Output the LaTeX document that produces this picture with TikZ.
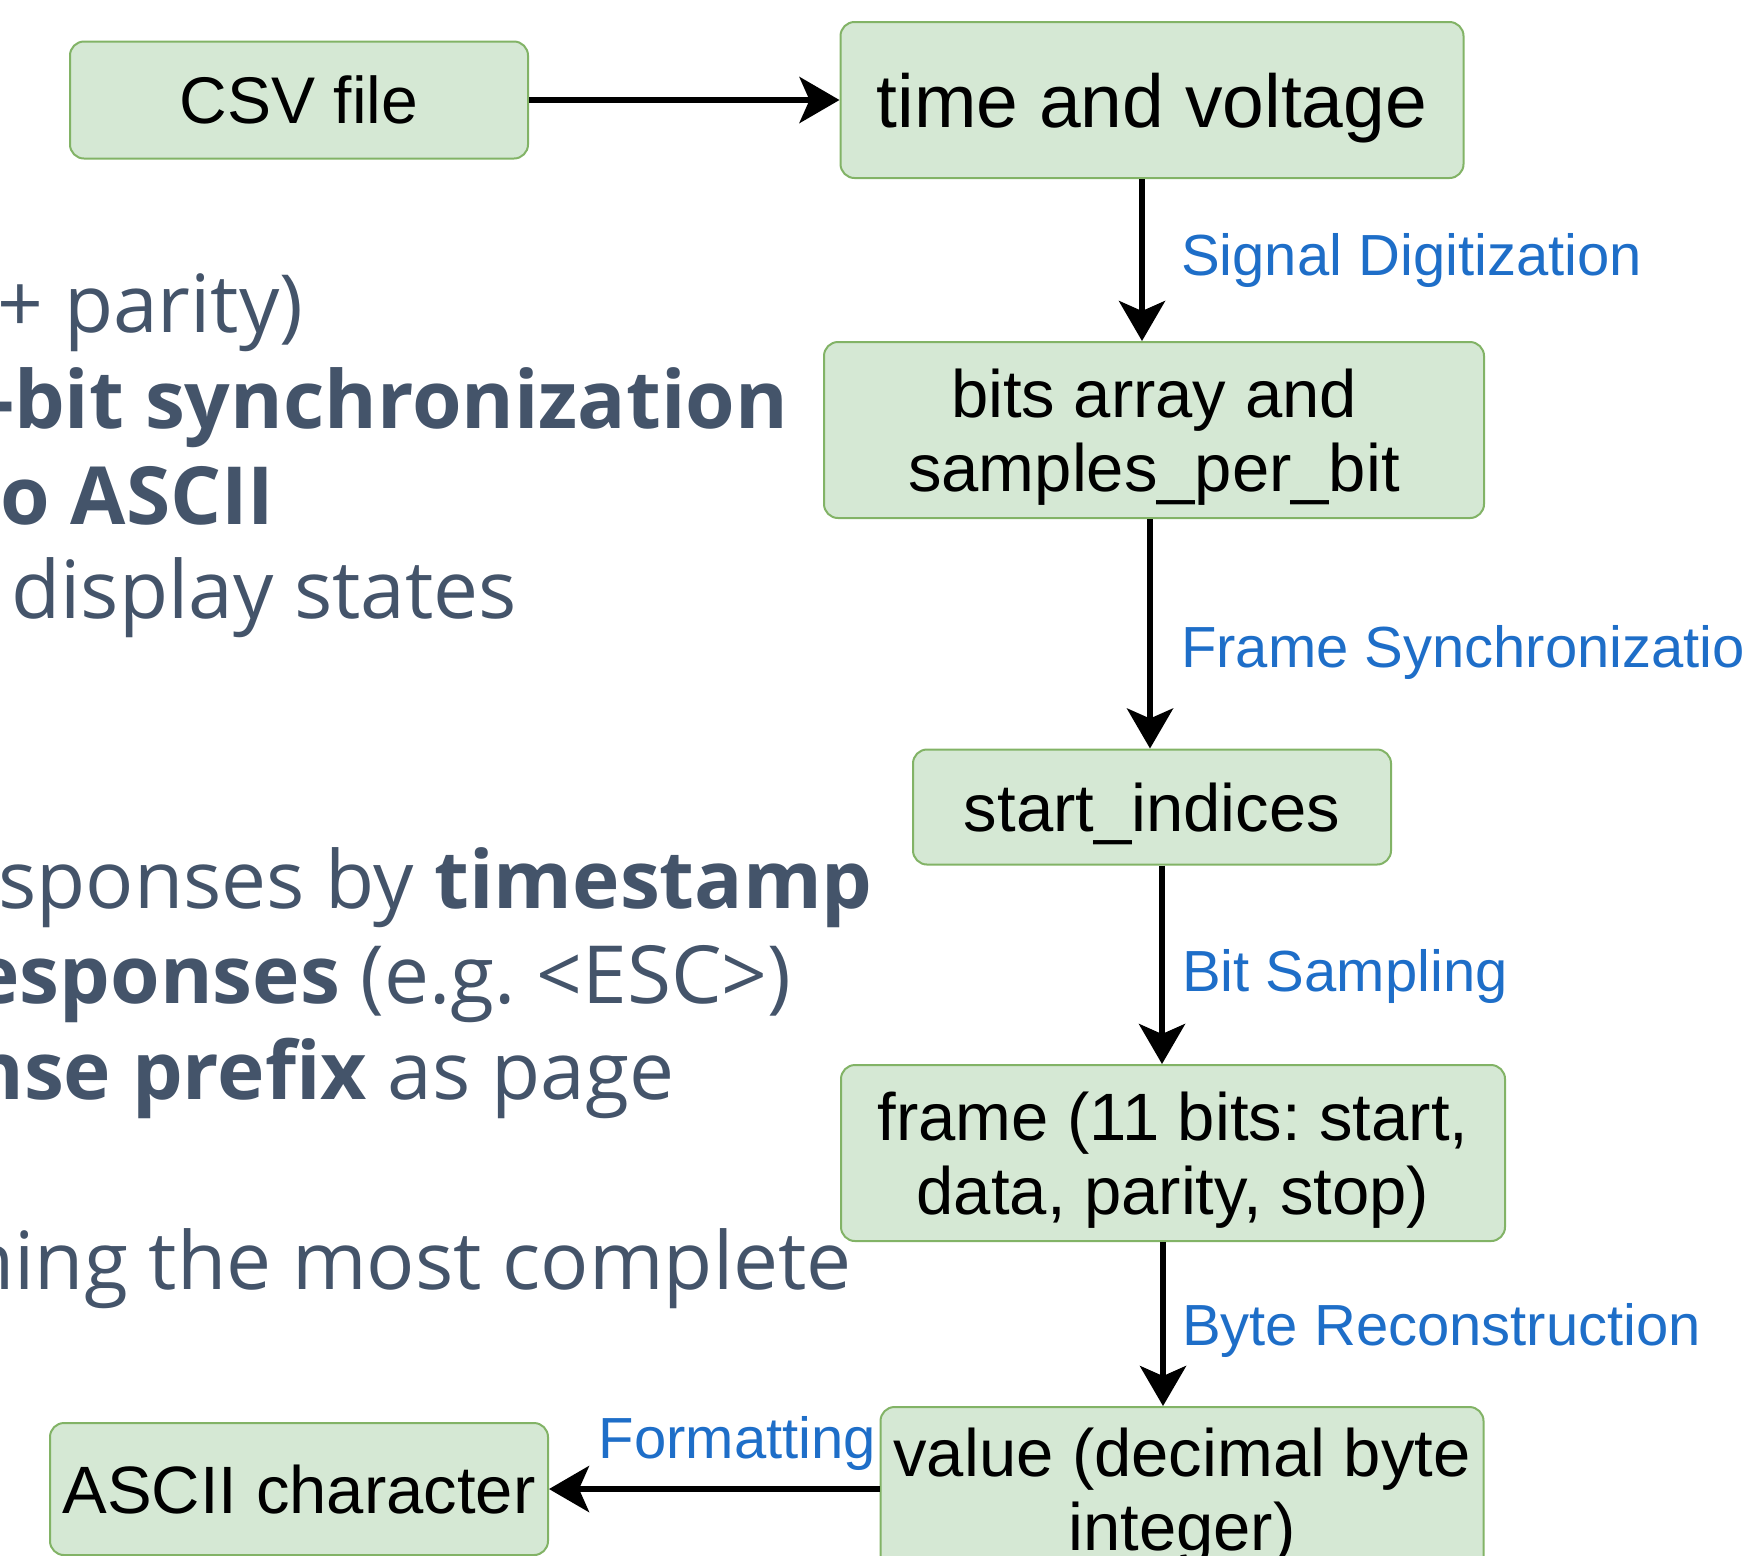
\documentclass[tikz,border=0pt]{standalone}
\usepackage{fontspec}
\setmainfont{Liberation Sans}
\newfontfamily\slidefont{Open Sans}
\definecolor{boxfill}{RGB}{213,232,212}
\definecolor{boxline}{RGB}{130,179,102}
\definecolor{flowblue}{RGB}{30,110,200}
\definecolor{slidegray}{RGB}{68,84,106}
\usetikzlibrary{arrows.meta}
\usetikzlibrary{positioning}
\tikzset{
  stepbox/.style={draw=boxline, fill=boxfill, line width=1pt, rounded corners=7pt,
    align=center, inner sep=0pt, text depth=0pt, font=\fontsize{33.5pt}{37pt}\selectfont},
  flow/.style={line width=3pt, -{Stealth[length=20pt,width=23pt,inset=5pt]}},
  steplabel/.style={text=flowblue, inner sep=0pt, font=\fontsize{29pt}{34pt}\selectfont},
  slidetext/.style={anchor=base west, inner sep=0pt, text=slidegray,
    font=\slidefont\fontsize{40.1pt}{48pt}\selectfont}
}

\begin{document}
\frenchspacing
\begin{tikzpicture}[x=0.5pt, y=-0.5pt]
  \useasboundingbox (0,0) rectangle (1743,1555);
  \clip (0,0) rectangle (1743,1555);

  % slide text behind the diagram
  \node [slidetext] (ln1) at (-3,332) {+ parity)};
  \node [slidetext] (ln2) at (-12,428) {\bfseries -bit synchronization};
  \node [slidetext] (ln3) at (0,524) {\bfseries o ASCII};
  \node [slidetext] (ln4) at (11,618) {display states};
  \node [slidetext] (ln5) at (-2,908) {sponses by \textbf{timestamp}};
  \node [slidetext] (ln6) at (-28,1003) {\textbf{esponses} (e.g. <ESC>)};
  \node [slidetext] (ln7) at (-29,1099) {\textbf{nse prefix} as page};
  \node [slidetext] (ln8) at (-35,1289) {ning the most complete};

  % processing steps
  \node [stepbox, minimum width=229pt, minimum height=58.5pt, font=\fontsize{33pt}{36pt}\selectfont] at (299,100) (csv) {CSV file};
  \node [stepbox, minimum width=311.5pt, minimum height=78pt, font=\fontsize{37.5pt}{41pt}\selectfont] at (1152,100) (tv) {time and voltage};
  \node [stepbox, minimum width=330pt, minimum height=88pt] at (1154,430) (bits) {bits array and\\samples\_per\_bit};
  \node [stepbox, minimum width=239pt, minimum height=57.5pt] at (1152,807) (start) {start\_indices};
  \node [stepbox, minimum width=332pt, minimum height=88pt] at (1173,1153) (frame) {frame (11 bits: start,\\data, parity, stop)};
  \node [stepbox, minimum width=301.5pt, minimum height=82pt] at (1182,1489) (value) {value (decimal byte\\integer)};
  \node [stepbox, minimum width=249pt, minimum height=66pt] at (299,1489) (ascii) {ASCII character};

  % connectors
  \draw [flow] (csv.east) -- (csv.east -| tv.west);
  \draw [flow] ([xshift=-5pt]tv.south) -- ([xshift=-5pt]tv.south |- bits.north)
    node [steplabel, midway, right=18pt] (sd) {Signal Digitization};
  \draw [flow] ([xshift=-2pt]bits.south) -- ([xshift=-2pt]bits.south |- start.north)
    node [steplabel, pos=0.58, right=14pt] (fs) {Frame Synchronization};
  \draw [flow] ([xshift=5pt]start.south) -- ([xshift=5pt]start.south |- frame.north)
    node [steplabel, pos=0.56, right=8.5pt] (bs) {Bit Sampling};
  \draw [flow] ([xshift=-5pt]frame.south) -- ([xshift=-5pt]frame.south |- value.north)
    node [steplabel, pos=0.54, right=8pt] (br) {Byte Reconstruction};
  \draw [flow] (value.west) -- (ascii.east)
    node [steplabel, pos=0.43, above=7.5pt] (fm) {Formatting};
\end{tikzpicture}
\end{document}
